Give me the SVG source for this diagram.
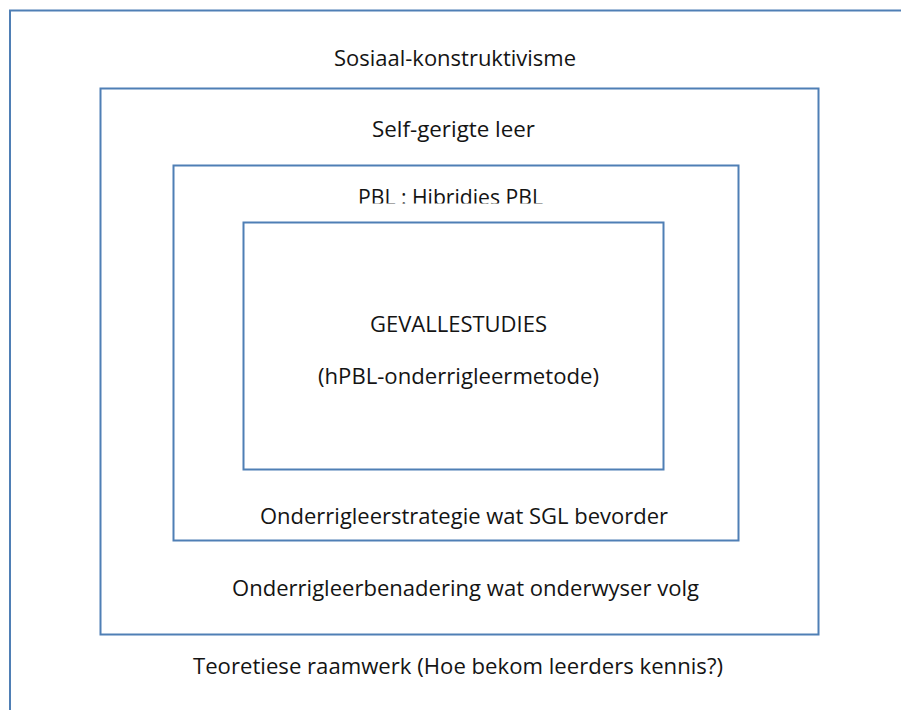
<svg xmlns="http://www.w3.org/2000/svg" width="901" height="710" viewBox="0 0 901 710">
<defs>
<style>
.box{fill:none;stroke:#4f7fb5;stroke-width:2}
.t{font-family:"Open Sans","Noto Sans","Liberation Sans",sans-serif;font-size:22px;fill:#141414;text-anchor:middle}
</style>
<clipPath id="pblclip"><rect x="300" y="170" width="300" height="33.5"/></clipPath>
</defs>
<rect width="901" height="710" fill="#ffffff"/>
<g id="sosiaal-konstruktivisme">
<rect class="box" x="10" y="10.5" width="1000" height="1000"/>
<text class="t" x="455" y="66" textLength="242" lengthAdjust="spacingAndGlyphs">Sosiaal-konstruktivisme</text>
<text class="t" x="458" y="674" textLength="530" lengthAdjust="spacingAndGlyphs">Teoretiese raamwerk (Hoe bekom leerders kennis?)</text>
</g>
<g id="self-gerigte-leer">
<rect class="box" x="100.5" y="88.5" width="718" height="546"/>
<text class="t" x="453.5" y="137" textLength="163" lengthAdjust="spacingAndGlyphs">Self-gerigte leer</text>
<text class="t" x="465.5" y="596" textLength="467" lengthAdjust="spacingAndGlyphs">Onderrigleerbenadering wat onderwyser volg</text>
</g>
<g id="pbl">
<rect class="box" x="173.5" y="165.5" width="565" height="375"/>
<text class="t" x="450.5" y="205" textLength="185" lengthAdjust="spacingAndGlyphs" clip-path="url(#pblclip)" fill="#333">PBL : Hibridies PBL</text>
<text class="t" x="464" y="524" textLength="408" lengthAdjust="spacingAndGlyphs">Onderrigleerstrategie wat SGL bevorder</text>
</g>
<g id="gevallestudies">
<rect class="box" x="243.5" y="222.5" width="420" height="247"/>
<text class="t" x="458.5" y="332" textLength="177" lengthAdjust="spacingAndGlyphs">GEVALLESTUDIES</text>
<text class="t" x="458.5" y="384" textLength="281" lengthAdjust="spacingAndGlyphs">(hPBL-onderrigleermetode)</text>
</g>
<g id="connectors"></g>
</svg>
